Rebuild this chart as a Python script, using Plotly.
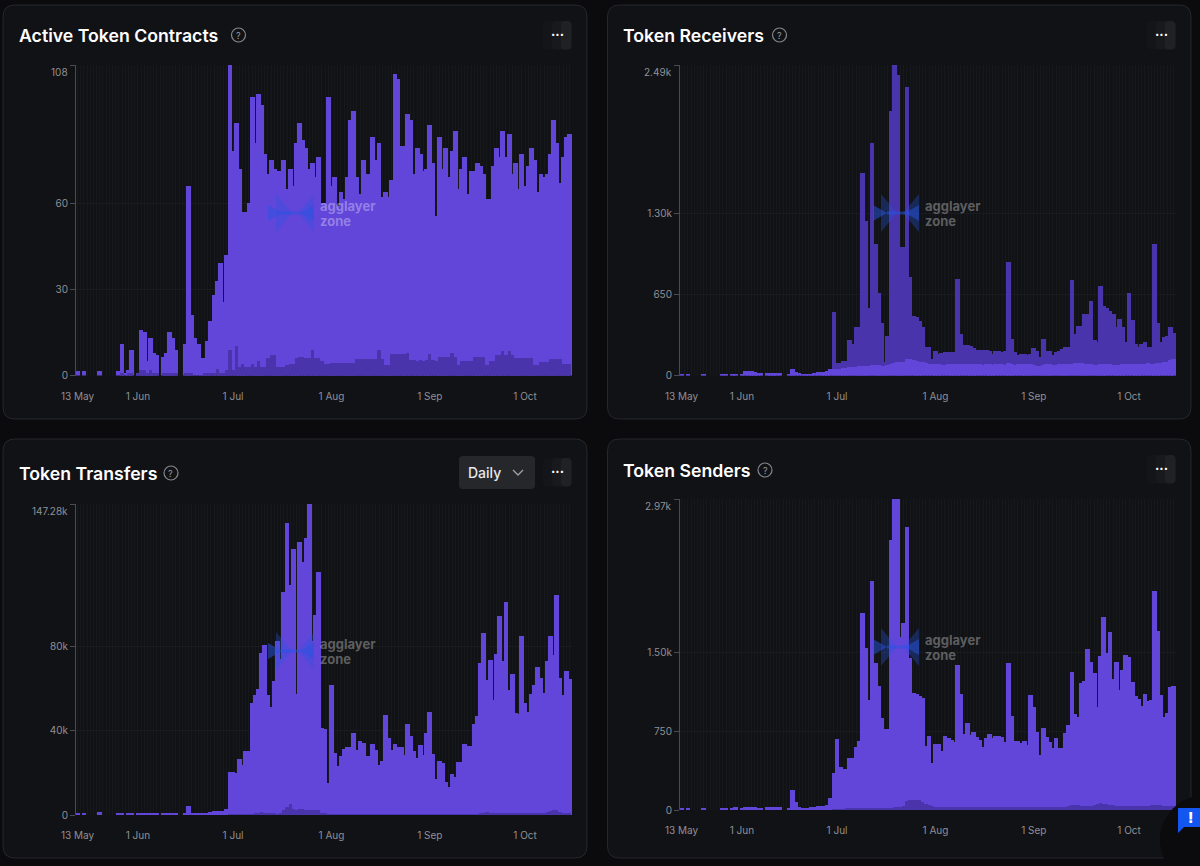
import pandas as pd
import plotly.graph_objects as go

W = 1200
H = 866

dates = pd.date_range("2025-05-13", periods=156)
month_ticks = ["2025-05-13", "2025-06-01", "2025-07-01", "2025-08-01", "2025-09-01", "2025-10-01"]
month_labels = ["13 May", "1 Jun", "1 Jul", "1 Aug", "1 Sep", "1 Oct"]

active_total = [
    1.5, 0, 1.5, 0, 0, 0, 0, 1.5, 0, 0,
    0, 0, 0, 1.5, 11, 1, 2, 9, 0, 1,
    16, 15, 5, 13, 8, 7, 0, 6.5, 8, 15,
    13, 9, 0, 0, 11, 66, 21, 13, 11, 6,
    6, 12, 19, 28, 33, 39, 25.5, 42, 108, 78,
    88, 72, 57, 57, 60, 97, 81, 98, 94, 77,
    70, 75, 72, 71, 71, 75, 65, 72, 66, 81,
    88, 82, 79, 72, 74, 69, 76, 60, 60, 97,
    66, 69, 59, 64, 61.5, 69, 89, 92, 69, 63,
    75, 70, 70, 83, 75, 81, 62, 64, 62, 68,
    105, 103, 80, 80, 91, 89, 70, 79, 77, 71,
    72, 87, 74, 55.5, 83, 72, 79, 69, 78, 85,
    65, 72, 76, 63, 71, 71, 74, 73, 70, 61.5,
    61.5, 73, 79, 76, 85, 76, 84, 70, 74, 65,
    77, 66, 73, 79, 75, 64, 70, 69, 70, 77,
    89, 81, 67, 76, 83, 84,
]
active_dark = [
    0, 0, 0, 0, 0, 0, 0, 0, 0, 0,
    0, 0, 0, 0, 1, 0, 1, 1, 0, 1,
    2, 2, 1, 2, 1, 1, 0, 1, 1, 1,
    1, 1, 0, 0, 1, 1, 1, 0, 0, 0,
    1, 1, 1, 1, 2.3, 1, 1, 2, 8.7, 2,
    10.4, 3, 4, 3, 3, 4, 3, 5, 3, 3,
    6, 7, 7, 3, 3, 3, 3.5, 4, 4, 6,
    6.5, 6.5, 6, 6, 9, 6, 6, 5, 4, 4,
    4.3, 4.3, 4.3, 4.3, 4.3, 4.3, 4.3, 4.3, 5.8, 5.8,
    5.8, 5.8, 5.8, 5.8, 5.8, 9, 5.8, 3.5, 3.5, 7.5,
    7.5, 7.5, 7.5, 7.5, 8, 5.5, 5.5, 5, 5.5, 5,
    5.5, 7.5, 5.5, 5, 6.5, 6.5, 6.5, 6.5, 8, 6.5,
    3.5, 5, 5, 5, 5, 6.5, 6.5, 6.5, 6.5, 3.5,
    5, 5, 7, 7, 8.5, 7, 8.5, 7, 6, 6,
    6, 6, 6, 6, 3.5, 3.5, 4.6, 4.6, 4.6, 5.6,
    5.6, 5.6, 5.6, 4, 4, 4,
]

receivers_total = [
    13, 0, 13, 0, 0, 0, 0, 13, 0, 0,
    0, 0, 0, 10, 13, 0, 13, 16, 0, 16,
    40, 37, 34, 28, 24, 20, 0, 20, 20, 22,
    22, 22, 0, 0, 13, 56, 25, 20, 15, 12,
    10, 10, 20, 25, 27, 30, 35, 53, 508, 100,
    100, 120, 120, 286, 254, 388, 388, 1622, 1243, 543,
    1863, 1056, 663, 422, 107, 320, 2125, 2489, 2406, 1029,
    1029, 2312, 788, 481, 468, 441, 388, 227, 227, 134,
    195, 174, 182, 187, 187, 187, 187, 775, 334, 241,
    241, 240, 222, 206, 206, 206, 206, 195, 174, 200,
    200, 185, 200, 914, 294, 187, 168, 174, 174, 168,
    170, 222, 195, 147, 294, 195, 195, 168, 187, 195,
    214, 227, 232, 762, 334, 401, 401, 495, 495, 601,
    281, 267, 716, 561, 542, 521, 495, 388, 454, 388,
    267, 663, 449, 254, 227, 254, 272, 227, 227, 1056,
    422, 267, 307, 320, 388, 340,
]
receivers_light = [
    13, 0, 13, 0, 0, 0, 0, 13, 0, 0,
    0, 0, 0, 10, 13, 0, 13, 16, 0, 16,
    40, 37, 34, 28, 24, 20, 0, 20, 20, 22,
    22, 22, 0, 0, 13, 56, 25, 20, 15, 12,
    10, 10, 20, 25, 27, 30, 35, 53, 50, 55,
    55, 60, 60, 65, 65, 70, 75, 75, 80, 80,
    85, 85, 85, 80, 80, 85, 95, 100, 105, 105,
    110, 130, 130, 125, 120, 110, 105, 100, 95, 90,
    90, 90, 88, 88, 90, 92, 90, 95, 95, 92,
    90, 92, 90, 92, 90, 88, 92, 90, 88, 90,
    92, 93, 88, 98, 90, 85, 92, 95, 95, 92,
    90, 88, 80, 78, 85, 90, 90, 85, 88, 90,
    92, 95, 92, 95, 98, 100, 98, 95, 92, 90,
    82, 85, 92, 95, 92, 90, 85, 85, 88, 92,
    90, 92, 95, 95, 92, 95, 95, 100, 95, 95,
    102, 98, 105, 110, 125, 134,
]

transfers_total = [
    800, 0, 800, 0, 0, 0, 0, 1200, 0, 0,
    0, 0, 0, 600, 800, 0, 700, 800, 0, 700,
    900, 1000, 900, 800, 800, 700, 0, 800, 800, 900,
    900, 1000, 0, 0, 600, 4200, 1000, 700, 600, 600,
    700, 700, 1500, 1900, 1800, 1900, 1900, 3000, 20500, 20500,
    19700, 26700, 23600, 30400, 30400, 53000, 56800, 59800, 76600, 80600,
    56700, 51000, 63400, 82200, 74000, 105500, 138200, 109000, 125900, 57500,
    129400, 120000, 131000, 147280, 82300, 94800, 115000, 41400, 40600, 15000,
    61400, 29600, 23100, 27900, 31300, 32300, 32300, 39000, 31000, 35100,
    34300, 27900, 27900, 33500, 30700, 23600, 25500, 47200, 36700, 30700,
    33800, 32300, 32300, 28600, 43300, 37500, 30400, 26800, 33000, 28300,
    38600, 48800, 29100, 17000, 25700, 24700, 15400, 13400, 19200, 18100,
    25200, 25200, 33400, 32900, 32900, 43300, 46700, 72000, 86300, 63700,
    73200, 54300, 76300, 94300, 72900, 101000, 59000, 66600, 48300, 48000,
    85000, 53000, 48800, 57100, 61400, 70000, 65000, 57900, 72900, 85000,
    75900, 104200, 64800, 56700, 68200, 64400,
]
transfers_dark = [
    0, 0, 0, 0, 0, 0, 0, 0, 0, 0,
    0, 0, 0, 0, 0, 0, 0, 0, 0, 0,
    0, 0, 0, 0, 0, 0, 0, 0, 0, 0,
    0, 0, 0, 0, 0, 0, 0, 0, 0, 0,
    0, 0, 0, 0, 0, 0, 0, 0, 100, 100,
    150, 200, 200, 200, 300, 300, 1000, 1100, 1200, 1000,
    1100, 900, 500, 400, 800, 2400, 3800, 5200, 3000, 2400,
    2800, 3000, 2200, 2400, 2600, 2400, 2300, 900, 600, 300,
    300, 250, 200, 200, 200, 200, 200, 200, 200, 200,
    200, 200, 200, 200, 200, 200, 200, 200, 200, 200,
    200, 200, 200, 200, 250, 200, 200, 200, 200, 200,
    200, 200, 200, 200, 200, 200, 200, 200, 200, 200,
    200, 200, 300, 300, 300, 400, 400, 700, 800, 1500,
    600, 500, 700, 800, 900, 900, 800, 800, 800, 800,
    700, 800, 800, 700, 800, 900, 1000, 900, 1200, 1900,
    2400, 2200, 1200, 1000, 900, 800,
]

senders_total = [
    20, 0, 20, 0, 0, 0, 0, 20, 0, 0,
    0, 0, 0, 15, 20, 0, 20, 25, 0, 20,
    25, 30, 30, 25, 20, 18, 0, 25, 25, 28,
    28, 25, 0, 0, 15, 191, 80, 25, 20, 18,
    20, 25, 30, 35, 41, 41, 45, 118, 356, 675,
    414, 391, 391, 493, 493, 598, 662, 1881, 1544, 1050,
    2187, 1400, 1187, 882, 770, 770, 2578, 2970, 2970, 1655,
    1789, 2699, 1448, 1114, 1108, 1092, 1073, 614, 707, 446,
    630, 630, 567, 710, 691, 668, 652, 1385, 1108, 722,
    828, 716, 748, 700, 668, 598, 684, 729, 684, 707,
    707, 694, 646, 1400, 900, 656, 656, 643, 656, 621,
    1098, 987, 748, 525, 780, 700, 652, 589, 688, 589,
    589, 732, 812, 1315, 914, 885, 1210, 1235, 1537, 1416,
    1311, 980, 1470, 1846, 1502, 1703, 1248, 1416, 1146, 1337,
    1480, 1464, 1219, 1089, 1057, 996, 1105, 1040, 1050, 2091,
    1712, 1098, 891, 923, 1171, 1184,
]
senders_dark = [
    0, 0, 0, 0, 0, 0, 0, 0, 0, 0,
    0, 0, 0, 0, 0, 0, 0, 0, 0, 0,
    0, 0, 0, 0, 0, 0, 0, 0, 0, 0,
    0, 0, 0, 0, 0, 0, 0, 0, 0, 0,
    0, 0, 0, 0, 0, 0, 0, 0, 8, 8,
    9, 9, 10, 10, 10, 12, 12, 14, 14, 13,
    15, 15, 14, 15, 15, 20, 22, 25, 28, 28,
    35, 90, 98, 100, 98, 92, 75, 60, 45, 35,
    32, 30, 28, 30, 28, 28, 26, 30, 32, 28,
    28, 30, 28, 28, 26, 26, 28, 30, 30, 28,
    28, 26, 26, 30, 32, 28, 26, 26, 26, 28,
    28, 30, 26, 24, 26, 26, 26, 26, 26, 28,
    28, 32, 40, 50, 48, 45, 42, 40, 42, 42,
    50, 60, 64, 58, 55, 50, 45, 42, 40, 42,
    40, 42, 40, 38, 38, 40, 42, 42, 45, 45,
    48, 45, 40, 38, 38, 38,
]

LIGHT = "#6246da"
DARK = "#4a34ac"
DAY = 86400000
WIDE = 1.5 * DAY  # bars overlap their neighbours in the original

# px boxes below: card, plot area, title, icons
panels = [
    dict(title="Active Token Contracts", series=[(active_total, LIGHT, WIDE), (active_dark, DARK, DAY)],
         tickvals=[0, 30, 60, 108], ticktext=["0", "30", "60", ""], top="108", ymax=108,
         card=(3, 5, 587, 419), plot=(76, 65, 572, 375.5), title_y=35, title_x=18, help_x=238.5,
         menu_x=543, menu_y=21, mark=(268, 213)),
    dict(title="Token Receivers", series=[(receivers_total, DARK, WIDE), (receivers_light, LIGHT, WIDE)],
         tickvals=[0, 650, 1300, 2490], ticktext=["0", "650", "1.30k", ""], top="2.49k", ymax=2490,
         card=(607.5, 5, 1191, 419), plot=(680, 65, 1176, 375.5), title_y=35, title_x=622, help_x=779.5,
         menu_x=1147, menu_y=21, mark=(873, 213)),
    dict(title="Token Transfers", series=[(transfers_total, LIGHT, WIDE), (transfers_dark, DARK, DAY)],
         tickvals=[0, 40000, 80000, 147280], ticktext=["0", "40k", "80k", ""], top="147.28k", ymax=147280,
         card=(3, 439, 587, 858), plot=(76, 504, 572, 815), title_y=473, title_x=18, help_x=171,
         menu_x=543, menu_y=458, mark=(268, 651)),
    dict(title="Token Senders", series=[(senders_total, LIGHT, WIDE), (senders_dark, DARK, DAY)],
         tickvals=[0, 750, 1500, 2970], ticktext=["0", "750", "1.50k", ""], top="2.97k", ymax=2970,
         card=(607.5, 439, 1191, 858), plot=(680, 499, 1176, 810), title_y=470, title_x=622, help_x=765,
         menu_x=1147, menu_y=455, mark=(873, 647)),
]


def fx(x):
    return x / W


def fy(y):
    return 1 - y / H


def poly(points):
    return "M" + " L".join(f"{fx(x):.5f},{fy(y):.5f}" for x, y in points) + " Z"


def round_rect(x0, y0, x1, y1, r):
    return (
        f"M{fx(x0 + r)},{fy(y0)} L{fx(x1 - r)},{fy(y0)} Q{fx(x1)},{fy(y0)} {fx(x1)},{fy(y0 + r)} "
        f"L{fx(x1)},{fy(y1 - r)} Q{fx(x1)},{fy(y1)} {fx(x1 - r)},{fy(y1)} "
        f"L{fx(x0 + r)},{fy(y1)} Q{fx(x0)},{fy(y1)} {fx(x0)},{fy(y1 - r)} "
        f"L{fx(x0)},{fy(y0 + r)} Q{fx(x0)},{fy(y0)} {fx(x0 + r)},{fy(y0)} Z"
    )


def paper_shape(**kw):
    return dict(xref="paper", yref="paper", **kw)


def text(x, y, s, size=12, color="#ffffff", anchor="left", weight=400):
    return dict(xref="paper", yref="paper", x=fx(x), y=fy(y), text=s, showarrow=False,
                xanchor=anchor, yanchor="middle", align="left", borderpad=0,
                font=dict(family="Inter", size=size, color=color, weight=weight))


fig = go.Figure()
shapes = []
annotations = []

for n, p in enumerate(panels):
    suffix = "" if n == 0 else str(n + 1)
    for values, color, width in p["series"]:
        fig.add_trace(go.Bar(x=dates, y=values, width=width, marker=dict(color=color, line=dict(width=0)),
                             xaxis="x" + suffix, yaxis="y" + suffix, showlegend=False))

    x0, y0, x1, y1 = p["plot"]
    fig.update_layout({
        "xaxis" + suffix: dict(
            domain=[fx(x0), fx(x1)], anchor="y" + suffix, type="date", automargin=False,
            range=["2025-05-12 12:00", "2025-10-15 19:12"],
            tickmode="array", tickvals=month_ticks, ticktext=month_labels,
            ticks="outside", ticklen=11, tickcolor="rgba(0,0,0,0)", showline=False, zeroline=False,
            showgrid=False, tickfont=dict(family="Inter", size=10, color="#8f9095"),
            minor=dict(showgrid=True, dtick=DAY, gridcolor="#17181b", gridwidth=1, ticks=""),
        ),
        "yaxis" + suffix: dict(
            domain=[fy(y1), fy(y0)], anchor="x" + suffix, range=[0, p["ymax"]], automargin=False,
            tickmode="array", tickvals=p["tickvals"], ticktext=p["ticktext"],
            ticks="outside", ticklen=5, tickcolor="#4a4b4f", showline=True, linecolor="#4a4b4f", linewidth=1,
            zeroline=False, showgrid=True, gridcolor="#1a1b1e", gridwidth=1,
            tickfont=dict(family="Inter", size=10, color="#8f9095"),
        ),
    })

    # card behind everything
    cx0, cy0, cx1, cy1 = p["card"]
    shapes.append(paper_shape(type="path", path=round_rect(cx0, cy0, cx1, cy1, 12), fillcolor="#111215",
                              line=dict(color="#26272b", width=1), layer="below"))

    annotations.append(text(p["title_x"], p["title_y"], p["title"], size=17.7, weight=600))
    hx, hy = p["help_x"], p["title_y"]
    shapes.append(paper_shape(type="circle", x0=fx(hx - 7), x1=fx(hx + 7), y0=fy(hy + 7), y1=fy(hy - 7),
                              line=dict(color="#85868a", width=1.2), fillcolor="rgba(0,0,0,0)"))
    annotations.append(text(hx, hy, "?", size=9, color="#9a9ba0", anchor="center"))

    # "..." button, gradient faked with a few steps
    mx, my = p["menu_x"], p["menu_y"]
    shapes.append(paper_shape(type="path", path=round_rect(mx, my, mx + 28.5, my + 28.5, 4), fillcolor="#141518",
                              line=dict(width=0), layer="below"))
    shapes.append(paper_shape(type="path", path=round_rect(mx + 9, my, mx + 28.5, my + 28.5, 4), fillcolor="#18191c",
                              line=dict(width=0), layer="below"))
    shapes.append(paper_shape(type="path", path=round_rect(mx + 18, my, mx + 28.5, my + 28.5, 4), fillcolor="#202125",
                              line=dict(width=0), layer="below"))
    annotations.append(text(mx + 14, my + 13, "···", size=13, anchor="center", weight=700))

    annotations.append(text(x0 - 7, y0 + 7, p["top"], size=10, color="#8f9095", anchor="right"))

    # watermark
    lx, ly = p["mark"]
    soft = "rgba(38,84,225,0.32)"
    blue = "rgba(38,84,225,0.5)"
    for pts, fill in (
        ([(lx, ly - 8), (lx, ly + 8), (lx + 14, ly)], blue),
        ([(lx + 8, ly - 19), (lx + 8, ly + 19), (lx + 24, ly)], soft),
        ([(lx + 46, ly - 8), (lx + 46, ly + 8), (lx + 32, ly)], blue),
        ([(lx + 46, ly - 19), (lx + 46, ly + 19), (lx + 30, ly)], soft),
        ([(lx + 14, ly - 1.5), (lx + 32, ly - 1.5), (lx + 32, ly + 1.5), (lx + 14, ly + 1.5)], blue),
    ):
        shapes.append(paper_shape(type="path", path=poly(pts), fillcolor=fill, line=dict(width=0)))
    annotations.append(text(lx + 51, ly - 7, "agglayer", size=13, color="rgba(255,255,255,0.32)", weight=700))
    annotations.append(text(lx + 51, ly + 8, "zone", size=13, color="rgba(255,255,255,0.32)", weight=700))

# Daily dropdown on the transfers card
shapes.append(paper_shape(type="path", path=round_rect(459, 456, 535, 489, 4), fillcolor="#26272b",
                          line=dict(width=0), layer="below"))
annotations.append(text(467, 472, "Daily", size=14, color="#e8e8ea", weight=500))
shapes.append(paper_shape(type="path", path=f"M{fx(513)},{fy(470)} L{fx(518)},{fy(475)} L{fx(523)},{fy(470)}",
                          line=dict(color="#a0a1a5", width=1.3), fillcolor="rgba(0,0,0,0)"))

# chat widget in the corner of the window
shapes.append(paper_shape(type="circle", x0=fx(1160), x1=fx(1250), y0=fy(885), y1=fy(795),
                          fillcolor="#0b0b0e", line=dict(width=0)))
shapes.append(paper_shape(type="path", path=poly([(1178, 808), (1200, 808), (1200, 827), (1184, 827),
                                                  (1178, 833)]), fillcolor="#1457f0", line=dict(width=0)))
annotations.append(text(1190, 817, "!", size=15, anchor="center", weight=800))

fig.update_layout(
    width=W, height=H, autosize=False, margin=dict(l=0, r=0, t=0, b=0),
    paper_bgcolor="#0b0b0e", plot_bgcolor="rgba(0,0,0,0)", barmode="overlay", bargap=0,
    shapes=shapes, annotations=annotations, showlegend=False,
)

fig.write_html("out.html", config={"displayModeBar": False},
               post_script="document.body.style.margin='0';document.documentElement.style.overflow='hidden';")
